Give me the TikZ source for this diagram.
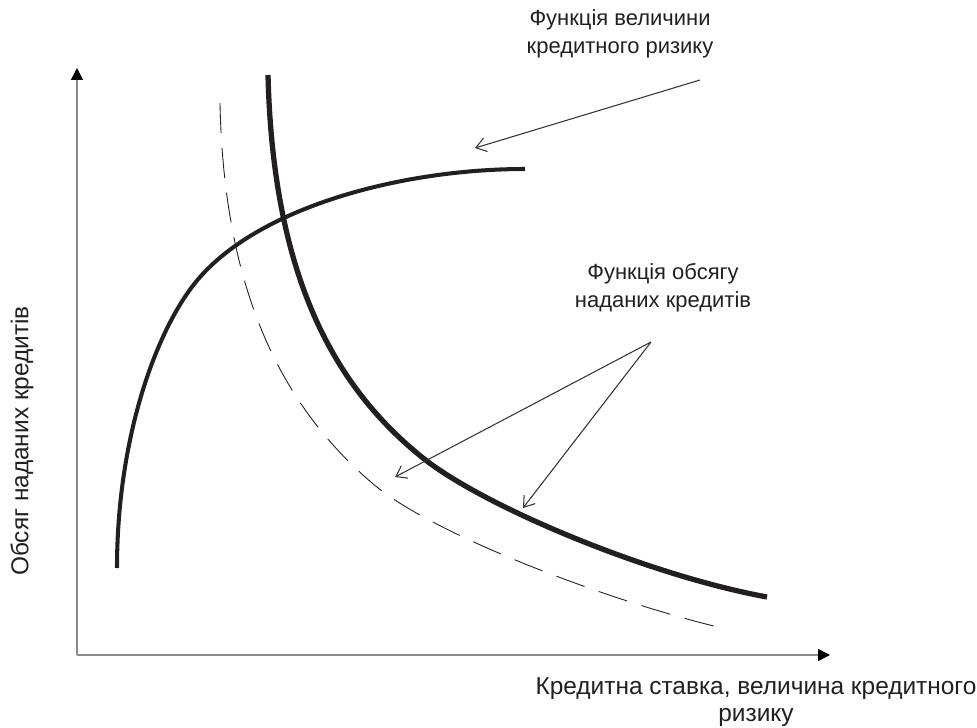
\documentclass[tikz,border=0pt]{standalone}
\usepackage{fontspec}
\setmainfont{Liberation Sans}
\usetikzlibrary{arrows.meta}
\definecolor{axisgray}{HTML}{8C8C8C}
\definecolor{curveblack}{HTML}{231F20}
\definecolor{pointergray}{HTML}{333333}
\begin{document}
\begin{tikzpicture}[
    axis/.style={axisgray, line width=0.8pt, -{Triangle[length=2.4mm, width=2.4mm, color=black]}},
    thickcurve/.style={curveblack, line width=2.6pt},
    dashcurve/.style={curveblack, line width=0.5pt, dash pattern=on 6mm off 3mm},
    pointer/.style={pointergray, line width=0.6pt, -{Straight Barb[length=2mm, width=2.8mm]}},
    caption/.style={font=\fontsize{12.5}{15.8}\selectfont, text=curveblack, align=center},
    axiscap/.style={font=\fontsize{13.9}{15.2}\selectfont, text=curveblack, align=center}
  ]
    \useasboundingbox (0,0) rectangle (19.54,14.54);

    % Axes
    \coordinate (origin) at (1.54,1.44);
    \coordinate (ytop) at (1.54,13.18);
    \coordinate (xend) at (16.6,1.44);
    \draw[axis] (origin) -- (ytop);
    \draw[axis] (origin) -- (xend);

    % Axis labels
    \node[axiscap, rotate=90] (ylabel) at (0.44,5.72) {Обсяг наданих кредитів};
    \node[axiscap] (xlabel) at (15.12,0.50) {Кредитна ставка, величина кредитного\\ризику};

    % Credit risk function (rising)
    \draw[thickcurve, line width=2.3pt] (2.34,3.18)
      .. controls (2.34,5.74) and (3.10,7.88) .. (3.90,8.88)
      .. controls (5.10,10.38) and (8.00,11.16) .. (10.50,11.16);

    % Volume function (falling)
    \draw[thickcurve, line width=3pt] (5.36,13.04)
      .. controls (5.46,9.04) and (6.66,6.82) .. (8.46,5.38)
      .. controls (9.66,4.42) and (12.94,3.04) .. (15.34,2.60);

    % Shifted volume function (dashed)
    \draw[dashcurve] (4.40,12.48)
      .. controls (4.48,8.54) and (5.74,6.34) .. (7.44,4.88)
      .. controls (8.64,3.84) and (12.24,2.50) .. (14.44,1.98);

    % Captions
    \node[caption] (riskcap) at (12.40,13.86) {Функція величини\\кредитного ризику};
    \node[caption] (volcap) at (13.26,8.78) {Функція обсягу\\наданих кредитів};

    % Pointers
    \coordinate (risktail) at (14.0,12.94);
    \coordinate (riskhead) at (9.5,11.58);
    \coordinate (voltail) at (13.02,7.70);
    \coordinate (volheadA) at (7.9,5.0);
    \coordinate (volheadB) at (10.46,4.38);
    \draw[pointer] (risktail) -- (riskhead);
    \draw[pointer] (voltail) -- (volheadA);
    \draw[pointer] (voltail) -- (volheadB);
\end{tikzpicture}
\end{document}
